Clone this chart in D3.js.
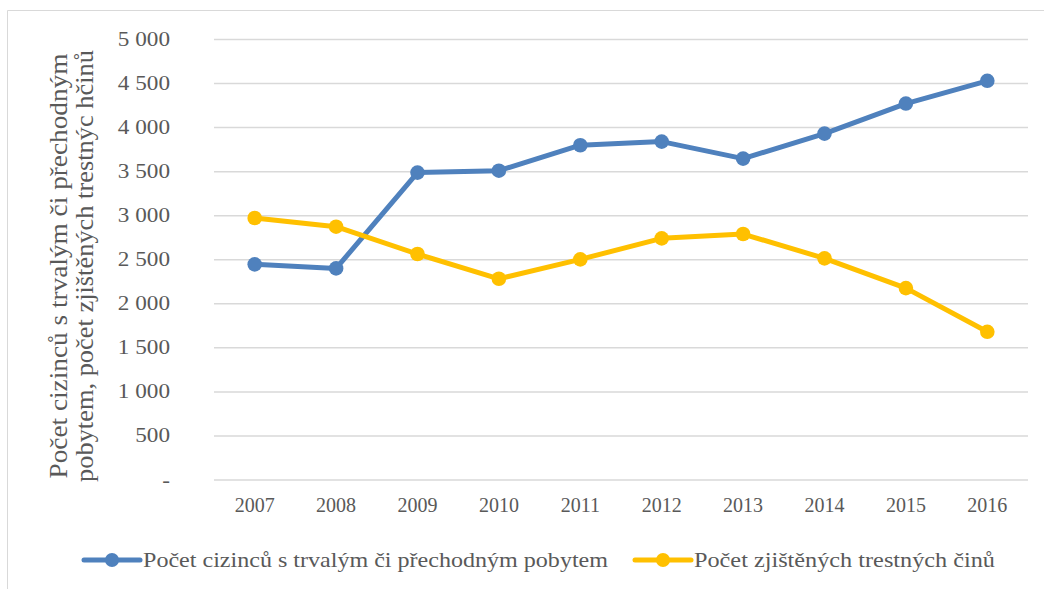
<!DOCTYPE html>
<html>
<head>
<meta charset="utf-8">
<script src="https://d3js.org/d3.v7.min.js"></script>
<style>
  body { margin: 0; background: #fff; }
</style>
</head>
<body>
<div id="chart"></div>
<script>
(function(){

// data
var years = ["2007", "2008", "2009", "2010", "2011", "2012", "2013", "2014", "2015", "2016"]
var foreigners = [2448, 2402, 3489, 3511, 3800, 3841, 3648, 3932, 4273, 4531]
var crimes = [2974, 2875, 2565, 2284, 2504, 2743, 2792, 2516, 2178, 1682]
var yTicks = [0, 500, 1000, 1500, 2000, 2500, 3000, 3500, 4000, 4500, 5000]
var seriesNames = ["Počet cizinců s trvalým či přechodným pobytem", "Počet zjištěných trestných činů"]
var titleLines = ["Počet cizinců s trvalým či přechodným", "pobytem, počet zjištěných trestnýc hčinů"]

var colors = ["#4f81bd", "#ffc000"]
var stretch = 1.16  // text in the picture is a bit wider than normal

var width = 1044, height = 589

var svg = d3.select("#chart")
    .append("svg")
    .attr("width", width)
    .attr("height", height)
    .attr("font-family", "'Liberation Serif', 'Times New Roman', 'DejaVu Serif', serif")

svg.append("rect").attr("width", width).attr("height", height).attr("fill", "#fff")

// outer frame (only top and left visible)
svg.append("path")
    .attr("d", "M7.5," + height + "V10.5H" + width)
    .attr("fill", "none")
    .attr("stroke", "#d9d9d9")
    .attr("stroke-width", 1)

var x = d3.scaleBand()
    .domain(years)
    .range([214, 1028])

var y = d3.scaleLinear()
    .domain([0, 5000])
    .range([480, 39.5])

var fmt = function(d) {
    if (d == 0) return "-"
    return d3.format(",")(d).replace(/,/g, " ")
}

// gridlines
svg.append("g")
    .selectAll("line")
    .data(yTicks)
    .enter()
    .append("line")
    .attr("x1", x.range()[0])
    .attr("x2", x.range()[1])
    .attr("y1", d => y(d))
    .attr("y2", d => y(d))
    .attr("stroke", "#d9d9d9")
    .attr("stroke-width", 1.5)

var yLabels = svg.append("g")
    .selectAll("text")
    .data(yTicks)
    .enter()
    .append("text")
    .attr("x", 170)
    .attr("y", d => y(d) + 6.5)
    .attr("text-anchor", "end")
    .attr("font-size", "20px")
    .attr("fill", "#595959")
    .text(fmt)

var xLabels = svg.append("g")
    .selectAll("text")
    .data(years)
    .enter()
    .append("text")
    .attr("x", d => x(d) + x.bandwidth() / 2)
    .attr("y", 511.7)
    .attr("text-anchor", "middle")
    .attr("font-size", "20px")
    .attr("fill", "#595959")
    .text(d => d)

// y title, two rotated lines
svg.append("g")
    .selectAll("text")
    .data(titleLines)
    .enter()
    .append("text")
    .attr("transform", (d, i) => "translate(" + (66.7 + i * 26.6) + ",266) rotate(-90)")
    .attr("text-anchor", "middle")
    .attr("font-size", "26px")
    .attr("fill", "#595959")
    .attr("textLength", (d, i) => i == 0 ? 425 : 432)
    .attr("lengthAdjust", "spacingAndGlyphs")
    .text(d => d)

var line = d3.line()
    .x((d, i) => x(years[i]) + x.bandwidth() / 2)
    .y(d => y(d))

var allSeries = [foreigners, crimes]

allSeries.forEach(function(vals, k) {
    var g = svg.append("g")
    g.append("path")
        .datum(vals)
        .attr("d", line)
        .attr("fill", "none")
        .attr("stroke", colors[k])
        .attr("stroke-width", 5)
        .attr("stroke-linejoin", "round")
    g.selectAll("circle")
        .data(vals)
        .enter()
        .append("circle")
        .attr("cx", (d, i) => x(years[i]) + x.bandwidth() / 2)
        .attr("cy", d => y(d))
        .attr("r", 7.3)
        .attr("fill", colors[k])
})

// legend
var legendX = [84, 635]
var legendLen = [465, 301]
var legend = svg.append("g")
    .selectAll("g")
    .data(seriesNames)
    .enter()
    .append("g")
    .attr("transform", (d, i) => "translate(" + legendX[i] + ",560)")

legend.append("line")
    .attr("x1", 0).attr("x2", 56)
    .attr("stroke", (d, i) => colors[i])
    .attr("stroke-width", 5)
    .attr("stroke-linecap", "round")
legend.append("circle")
    .attr("cx", 28)
    .attr("r", 7)
    .attr("fill", (d, i) => colors[i])
legend.append("text")
    .attr("x", 59)
    .attr("y", 6.7)
    .attr("font-size", "22px")
    .attr("fill", "#595959")
    .attr("textLength", (d, i) => legendLen[i])
    .attr("lengthAdjust", "spacingAndGlyphs")
    .text(d => d)

// widen tick labels like in the picture
yLabels.merge(xLabels).each(function() {
    var w = this.getComputedTextLength()
    d3.select(this).attr("textLength", w * stretch).attr("lengthAdjust", "spacingAndGlyphs")
})

})();
</script>
</body>
</html>
